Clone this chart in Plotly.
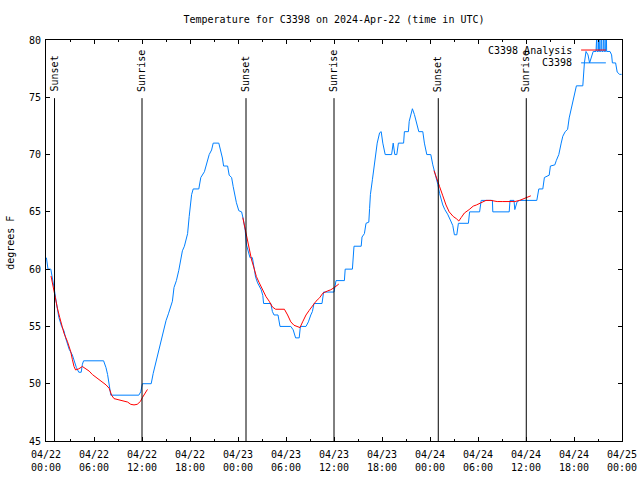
import pandas as pd
import plotly.graph_objects as go

# ---------------- data ----------------
BASE = "2024-04-22 00:00"

# observed temperature (C3398), hours since BASE and degrees F
obs_hours = [0.05, 0.25, 0.6, 0.75, 0.85, 1.0, 1.2, 1.4, 1.6, 1.95, 2.25, 2.45, 2.9, 3.3, 3.5, 3.8, 4.1, 4.4,
             4.55, 4.7, 7.2, 7.5, 7.7, 7.9, 8.1, 11.6, 11.85, 12.05, 13.15, 13.4, 13.7, 14.05, 14.35, 14.8,
             15.0, 15.3, 15.6, 15.8, 16.0, 16.3, 16.6, 16.85, 17.05, 17.3, 17.55, 17.7, 17.9, 18.1, 18.2,
             18.4, 19.1, 19.35, 19.8, 20.0, 20.2, 20.4, 20.7, 20.9, 21.6, 21.85, 22.05, 22.2, 22.7, 22.9,
             23.2, 23.4, 23.6, 23.8, 24.1, 24.45, 24.65, 24.9, 25.07, 25.3, 25.5, 25.8, 26.0, 26.2, 26.45,
             26.9, 27.1, 27.2, 28.1, 28.3, 28.5, 29.0, 29.25, 30.6, 30.9, 31.2, 31.65, 31.8, 32.5, 32.8,
             33.1, 33.3, 33.5, 34.5, 34.7, 36.0, 36.25, 37.3, 37.4, 38.3, 38.5, 39.4, 39.5, 39.8, 40.0,
             40.35, 40.45, 40.55, 40.8, 41.0, 41.2, 41.4, 41.7, 41.9, 42.1, 42.4, 43.2, 43.4, 43.6, 43.85,
             44.05, 44.7, 44.8, 45.3, 45.4, 45.6, 45.8, 46.05, 46.3, 46.6, 47.1, 47.3, 47.6, 48.1, 48.35,
             48.56, 48.77, 48.98, 49.2, 49.4, 49.6, 49.85, 50.2, 50.6, 50.85, 51.05, 51.35, 51.55, 52.8,
             52.95, 54.2, 54.4, 55.8, 55.85, 57.9, 58.0, 58.5, 58.6, 58.9, 59.2, 61.35, 61.6, 62.1, 62.3,
             62.9, 63.05, 63.6, 63.8, 64.1, 64.4, 64.6, 64.9, 65.2, 65.4, 65.66, 65.9, 66.1, 66.3, 67.1,
             67.2, 67.3, 67.5, 67.75, 67.95, 68.4, 68.75, 68.78, 68.85, 68.88, 69.05, 69.08, 69.15, 69.18,
             69.35, 69.38, 69.45, 69.48, 69.65, 69.68, 69.75, 69.78, 69.95, 69.98, 70.05, 70.08, 70.5,
             70.7, 70.8, 71.2, 71.4, 71.7, 71.95]
obs_temp = [61.0, 60.0, 60.0, 59.5, 59.0, 58.4, 57.5, 56.6, 55.8, 55.0, 54.6, 54.0, 53.0, 52.5, 52.0, 51.4, 51.0,
            51.0, 51.7, 52.0, 52.0, 51.4, 50.8, 50.0, 49.0, 49.0, 49.3, 50.0, 50.0, 50.9, 51.8, 52.8, 53.7,
            54.9, 55.5, 56.1, 56.9, 57.2, 58.4, 59.0, 59.9, 60.7, 61.6, 62.0, 62.6, 63.1, 64.6, 65.6, 66.5,
            67.0, 67.0, 68.0, 68.5, 69.0, 69.5, 70.0, 70.4, 71.0, 71.0, 70.4, 69.7, 69.0, 69.0, 68.2, 68.0,
            67.2, 66.5, 65.8, 65.1, 65.0, 64.4, 63.4, 62.1, 61.5, 61.0, 61.0, 60.2, 59.3, 58.8, 58.2, 57.7,
            57.0, 57.0, 56.3, 56.0, 56.0, 55.0, 55.0, 54.7, 54.0, 54.0, 55.0, 55.0, 55.4, 56.0, 56.3, 57.0,
            57.0, 58.0, 58.0, 59.0, 59.0, 60.0, 60.0, 62.0, 62.0, 62.8, 63.1, 64.0, 64.1, 65.3, 66.5, 67.8,
            68.9, 70.0, 71.0, 71.9, 72.0, 71.0, 70.0, 70.0, 71.0, 70.0, 70.0, 71.0, 71.0, 72.0, 72.0, 72.9,
            73.6, 74.0, 73.5, 72.9, 72.0, 72.0, 71.0, 70.0, 70.0, 69.1, 68.6, 67.9, 67.4, 66.6, 66.0, 65.6,
            65.2, 64.8, 64.2, 63.8, 63.0, 63.0, 64.0, 64.0, 65.0, 65.0, 66.0, 66.0, 65.0, 65.0, 66.0, 66.0,
            65.2, 65.9, 66.0, 66.0, 67.0, 67.0, 68.0, 68.2, 69.0, 69.1, 69.5, 70.0, 71.0, 71.6, 72.0, 72.2,
            73.2, 74.0, 74.8, 75.2, 76.0, 76.0, 77.0, 78.0, 79.0, 78.7, 78.0, 79.0, 79.0, 80.5, 80.5, 79.0,
            79.0, 80.5, 80.5, 79.0, 79.0, 80.5, 80.5, 79.0, 79.0, 80.5, 80.5, 79.0, 79.0, 80.5, 80.5, 79.0,
            79.0, 78.7, 78.0, 78.0, 77.2, 77.0, 77.0]

# analysis (C3398 Analysis), three overnight segments
ana1_hours = [0.63, 0.88, 1.13, 1.42, 1.71, 1.96, 2.25, 2.67, 3.09, 3.3, 3.5, 3.7, 4.1, 4.55, 4.96, 5.4, 5.8,
              6.2, 6.6, 7.05, 7.5, 7.9, 8.2, 8.5, 9.1, 9.76, 10.2, 10.6, 11.0, 11.4, 11.8, 12.06, 12.4, 12.68]
ana1_temp = [59.4, 58.4, 57.7, 56.6, 55.8, 55.2, 54.4, 53.7, 52.8, 52.1, 51.5, 51.2, 51.3, 51.5, 51.3, 51.1,
             50.8, 50.6, 50.4, 50.1, 49.9, 49.6, 49.0, 48.7, 48.6, 48.5, 48.4, 48.2, 48.15, 48.2, 48.45, 48.8,
             49.2, 49.5]
ana2_hours = [24.6, 24.9, 25.2, 25.4, 25.7, 26.0, 26.3, 26.66, 27.1, 27.5, 27.9, 28.3, 28.7, 29.8, 30.2, 30.6,
              31.0, 31.45, 31.75, 32.08, 32.5, 32.9, 33.3, 33.75, 34.2, 34.6, 35.2, 35.6, 36.05, 36.6]
ana2_temp = [64.5, 63.4, 62.5, 61.7, 60.8, 60.1, 59.35, 58.8, 58.2, 57.6, 57.2, 56.7, 56.5, 56.5, 56.0, 55.4,
             55.1, 55.0, 54.9, 55.4, 56.0, 56.4, 56.8, 57.2, 57.5, 57.9, 58.1, 58.2, 58.4, 58.7]
ana3_hours = [48.5, 48.9, 49.2, 49.6, 50.0, 50.4, 50.9, 51.3, 51.6, 51.9, 52.3, 52.9, 53.4, 53.8, 54.2, 54.6,
              55.0, 55.6, 56.4, 57.1, 58.0, 58.6, 59.2, 59.8, 60.2, 60.6]
ana3_temp = [68.6, 67.9, 67.2, 66.4, 65.6, 65.0, 64.6, 64.4, 64.2, 64.5, 64.9, 65.2, 65.5, 65.6, 65.75, 65.9,
             66.0, 66.0, 65.9, 65.9, 65.9, 65.9, 66.0, 66.2, 66.3, 66.4]

# sun events
event_times = ["2024-04-22 01:04", "2024-04-22 12:00", "2024-04-23 01:00",
               "2024-04-23 12:00", "2024-04-24 01:02", "2024-04-24 12:02"]
event_labels = ["Sunset", "Sunrise", "Sunset", "Sunrise", "Sunset", "Sunrise"]

x_range = ["2024-04-22 00:00", "2024-04-25 00:00"]
y_range = [45, 80]
y_ticks = [45, 50, 55, 60, 65, 70, 75, 80]

title_text = "Temperature for C3398 on 2024-Apr-22 (time in UTC)"
y_title = "degrees F"
series_names = ["C3398 Analysis", "C3398"]
series_colors = ["#ff0000", "#0080ff"]

# ---------------- build ----------------
base = pd.Timestamp(BASE)


def to_time(hours):
    return list(base + pd.to_timedelta(hours, unit="h"))


ana_x, ana_y = [], []
for hs, ts in [(ana1_hours, ana1_temp), (ana2_hours, ana2_temp), (ana3_hours, ana3_temp)]:
    ana_x += to_time(hs) + [None]
    ana_y += ts + [None]

FONT = "DejaVu Sans Mono"
FIG_W, FIG_H = 640, 480

fig = go.Figure()
fig.add_trace(go.Scatter(x=to_time(obs_hours), y=obs_temp, mode="lines", name=series_names[1],
                         line=dict(color=series_colors[1], width=1), showlegend=False))
fig.add_trace(go.Scatter(x=ana_x, y=ana_y, mode="lines", name=series_names[0], connectgaps=False,
                         line=dict(color=series_colors[0], width=1), showlegend=False))

# sunrise / sunset markers
for t, lab in zip(event_times, event_labels):
    fig.add_shape(type="line", xref="x", yref="paper", x0=t, x1=t, y0=0, y1=0.855,
                  line=dict(color="black", width=1))
    fig.add_annotation(x=t, xref="x", y=0.868, yref="paper", text=lab, textangle=-90,
                       showarrow=False, xanchor="center", yanchor="bottom",
                       font=dict(family=FONT, size=10, color="black"), borderpad=0)

# key (gnuplot style: text right, sample line after)
key_y = [0.975, 0.943]
for name, col, ky in zip(series_names, series_colors, key_y):
    fig.add_annotation(x=0.915, xref="paper", y=ky, yref="paper", text=name, showarrow=False,
                       xanchor="right", yanchor="middle", font=dict(family=FONT, size=10, color="black"),
                       borderpad=0)
    fig.add_shape(type="line", xref="paper", yref="paper", x0=0.929, x1=0.972, y0=ky, y1=ky,
                  line=dict(color=col, width=1))

# y axis title
fig.add_annotation(x=-0.062, xref="paper", y=0.495, yref="paper", text=y_title, textangle=-90,
                   showarrow=False, xanchor="center", yanchor="middle",
                   font=dict(family=FONT, size=10, color="black"))

fig.update_layout(
    width=FIG_W, height=FIG_H,
    margin=dict(l=46, r=18, t=40, b=39, autoexpand=False),
    paper_bgcolor="white", plot_bgcolor="white",
    font=dict(family=FONT, size=10, color="black"),
    title=dict(text=title_text, x=0.5, xref="paper", y=1 - 19 / FIG_H, yref="container",
               xanchor="center", yanchor="middle", font=dict(family=FONT, size=10, color="black")),
    showlegend=False,
)
fig.update_xaxes(
    type="date", range=x_range, showgrid=False, zeroline=False, automargin=False,
    showline=True, linecolor="black", linewidth=1, mirror="ticks",
    ticks="inside", ticklen=4, tickcolor="black", tickwidth=1, ticklabelstandoff=4,
    tick0=x_range[0], dtick=6 * 3600 * 1000, tickformat="%m/%d<br>%H:%M",
    minor=dict(ticks="inside", ticklen=2, tickcolor="black", dtick=3 * 3600 * 1000, tick0=x_range[0],
               showgrid=False),
    tickfont=dict(family=FONT, size=10, color="black"),
)
fig.update_yaxes(
    range=y_range, showgrid=False, zeroline=False, automargin=False,
    showline=True, linecolor="black", linewidth=1, mirror="ticks",
    ticks="inside", ticklen=4, tickcolor="black", tickwidth=1, ticklabelstandoff=2,
    tickvals=y_ticks, tickfont=dict(family=FONT, size=10, color="black"),
)

# remove the default page margin so the 640x480 figure fills the window exactly
fig.write_html("out.html", config={"displayModeBar": False},
               post_script="document.body.style.margin='0';document.body.style.overflow='hidden';")
